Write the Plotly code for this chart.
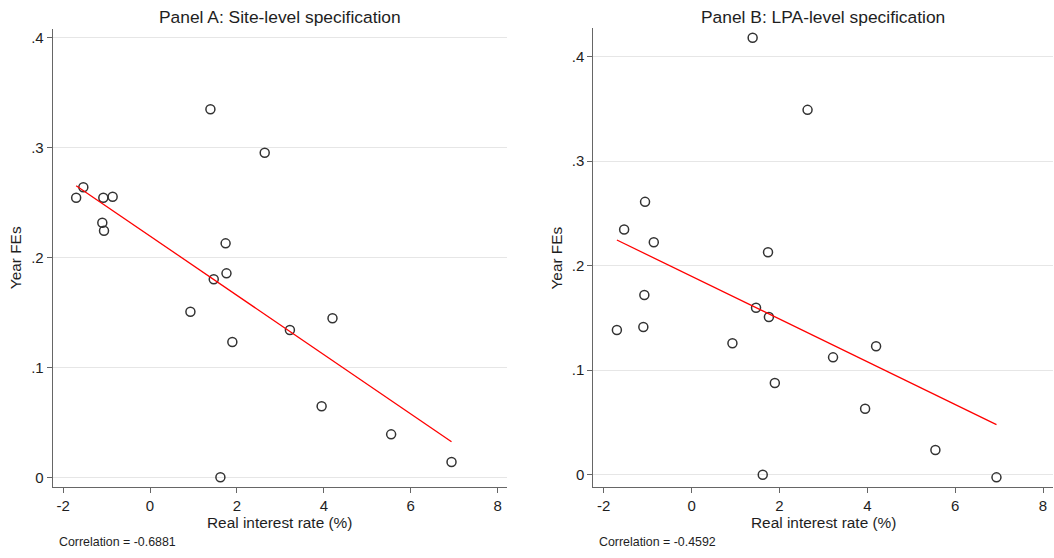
import numpy as np
import plotly.graph_objects as go

# Real interest rate (%) per year
real_rate = [-1.70, -1.535, -1.075, -0.86, -1.098, -1.059, 1.39, 2.64, 1.74, 1.76,
             1.467, 0.93, 3.22, 4.20, 1.895, 3.95, 5.55, 6.94, 1.62]
# Year fixed effects, Panel A (site-level)
fe_site = [0.2544, 0.2639, 0.2544, 0.2553, 0.2317, 0.2244, 0.3349, 0.2954, 0.2129, 0.1856,
           0.1802, 0.1507, 0.1340, 0.1447, 0.1231, 0.0646, 0.0391, 0.0139, 0.0]
# Year fixed effects, Panel B (LPA-level)
fe_lpa = [0.1385, 0.2345, 0.1720, 0.2224, 0.1413, 0.2610, 0.4179, 0.3490, 0.2128, 0.1509,
          0.1598, 0.1257, 0.1123, 0.1229, 0.0877, 0.0632, 0.0236, -0.0025, 0.0]

titles = ["Panel A: Site-level specification", "Panel B: LPA-level specification"]
corr_text = ["Correlation = -0.6881", "Correlation = -0.4592"]
x_ticks = [-2, 0, 2, 4, 6, 8]
x_ticktext = ["-2", "0", "2", "4", "6", "8"]
y_ticks = [0, 0.1, 0.2, 0.3, 0.4]
y_ticktext = ["0", ".1", ".2", ".3", ".4"]

W, H = 1054, 558
FONT = "Liberation Sans, Arial, sans-serif"
TXT = "#1e1e1e"

panels = [
    dict(x0=52.7, x1=506.7, ytop=29.0, ybot=487.3, xr=[-2.24, 8.21], yr=[-0.0091, 0.408],
         ytitle_x=15, corr_x=56.5, y=fe_site),
    dict(x0=593.3, x1=1052.7, ytop=28.3, ybot=487.3, xr=[-2.237, 8.22], yr=[-0.012, 0.427],
         ytitle_x=556.7, corr_x=597, y=fe_lpa),
]

fig = go.Figure()
annotations = []
layout = {}
for i, p in enumerate(panels):
    xa = "x" if i == 0 else "x2"
    ya = "y" if i == 0 else "y2"
    xkey = "xaxis" if i == 0 else "xaxis2"
    ykey = "yaxis" if i == 0 else "yaxis2"
    xs = np.array(real_rate)
    ys = np.array(p["y"])
    fig.add_trace(go.Scatter(x=xs, y=ys, mode="markers", xaxis=xa, yaxis=ya,
                             marker=dict(symbol="circle-open", size=9, color="#333333",
                                         line=dict(width=1.5, color="#333333")),
                             showlegend=False, hoverinfo="skip"))
    b, a = np.polyfit(xs, ys, 1)
    lx = np.array([xs.min(), xs.max()])
    fig.add_trace(go.Scatter(x=lx, y=a + b * lx, mode="lines", xaxis=xa, yaxis=ya,
                             line=dict(color="#ff0000", width=1.3),
                             showlegend=False, hoverinfo="skip"))
    dx = [p["x0"] / W, p["x1"] / W]
    dy = [1 - p["ybot"] / H, 1 - p["ytop"] / H]
    layout[xkey] = dict(domain=dx, range=p["xr"], anchor=ya, tickvals=x_ticks,
                        ticktext=x_ticktext,
                        ticks="outside", ticklen=5, tickcolor="#666666", showgrid=False,
                        zeroline=False, showline=True, linecolor="#666666", linewidth=1,
                        tickfont=dict(family=FONT, size=15, color=TXT))
    layout[ykey] = dict(domain=dy, range=p["yr"], anchor=xa, tickvals=y_ticks,
                        ticktext=y_ticktext, ticks="outside", ticklen=5, tickcolor="#666666",
                        showgrid=True, gridcolor="#e6e6e6", gridwidth=1, zeroline=False,
                        showline=True, linecolor="#666666", linewidth=1,
                        tickfont=dict(family=FONT, size=15, color=TXT))
    xc = (p["x0"] + p["x1"]) / 2 / W
    annotations.append(dict(text=titles[i], x=xc, y=1 - 17 / H, xref="paper", yref="paper",
                            showarrow=False, xanchor="center", yanchor="middle",
                            font=dict(family=FONT, size=17.4, color=TXT)))
    annotations.append(dict(text="Real interest rate (%)", x=xc, y=1 - 522.3 / H,
                            xref="paper", yref="paper", showarrow=False, xanchor="center",
                            yanchor="middle", font=dict(family=FONT, size=15.4, color=TXT)))
    annotations.append(dict(text="Year FEs", x=p["ytitle_x"] / W, y=(dy[0] + dy[1]) / 2,
                            xref="paper", yref="paper", showarrow=False, textangle=-90,
                            xanchor="center", yanchor="middle",
                            font=dict(family=FONT, size=15.4, color=TXT)))
    annotations.append(dict(text=corr_text[i], x=p["corr_x"] / W, y=1 - 541.7 / H,
                            xref="paper", yref="paper", showarrow=False, xanchor="left",
                            yanchor="middle", font=dict(family=FONT, size=12.4, color=TXT)))

fig.update_layout(width=W, height=H, margin=dict(l=0, r=0, t=0, b=0),
                  paper_bgcolor="white", plot_bgcolor="white",
                  annotations=annotations, **layout)
fig.write_html("out.html", config={"displayModeBar": False},
               post_script="document.body.style.margin='0px';document.body.style.overflow='hidden';")
